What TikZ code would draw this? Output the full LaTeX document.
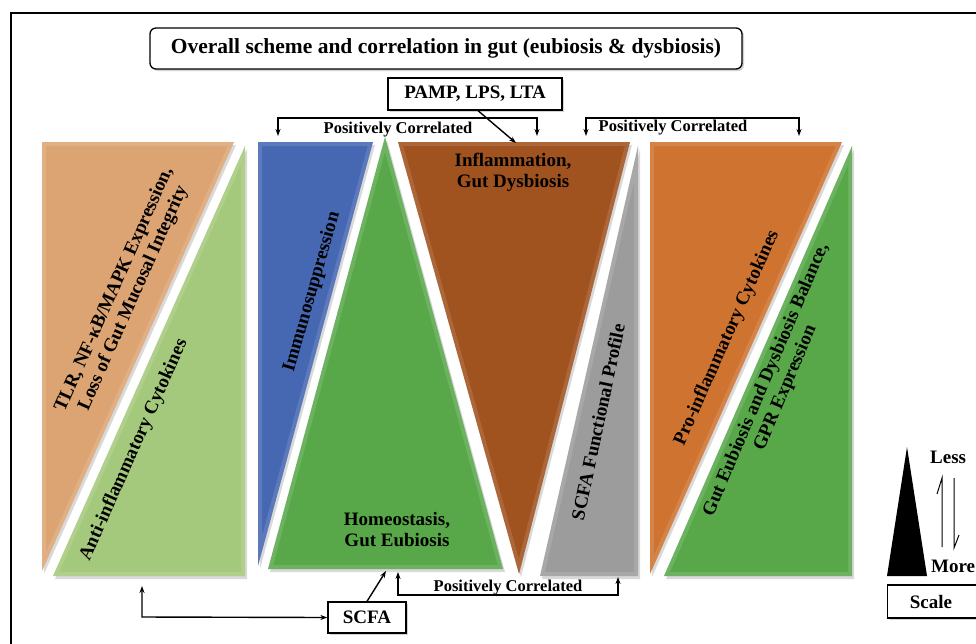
\documentclass[tikz,border=0pt]{standalone}
\usepackage{fontspec}
\setmainfont{Liberation Serif}
\usetikzlibrary{arrows.meta,shadows}
\definecolor{tanor}{HTML}{DCA472}
\definecolor{ltgreen}{HTML}{A4C97C}
\definecolor{blu}{HTML}{4668B2}
\definecolor{grn}{HTML}{58A84A}
\definecolor{brn}{HTML}{A0521F}
\definecolor{gry}{HTML}{9C9C9C}
\definecolor{orn}{HTML}{CF7430}
\newcommand\bevtri[4]{%
  \fill[black,opacity=0.15] ([shift={(2,3)}]#2)--([shift={(2,3)}]#3)--([shift={(2,3)}]#4)--cycle;
  \fill[#1] (#2)--(#3)--(#4)--cycle;
  \begin{scope}\clip (#2)--(#3)--(#4)--cycle;
    \draw[white,opacity=0.12,line width=8pt] (#2)--(#3)--(#4)--cycle;
  \end{scope}}
\begin{document}
\begin{tikzpicture}[x=1pt,y=-1pt,
  lbl/.style={font=\fontsize{19}{21}\selectfont\bfseries,align=center,inner sep=0pt},
  small/.style={font=\fontsize{16.5}{18}\selectfont\bfseries,inner sep=0pt},
  boxed/.style={draw,line width=1.3pt,fill=white,drop shadow={shadow xshift=2pt,shadow yshift=-2pt,opacity=0.35}},
  conn/.style={line width=1.4pt,-{Stealth[length=7pt,width=5pt]}},
  conn2/.style={line width=1.4pt,{Stealth[length=7pt,width=5pt]}-{Stealth[length=7pt,width=5pt]}}]
\useasboundingbox (0,0) rectangle (976,643);
\clip (0,0) rectangle (976,643);
\fill[white] (0,0) rectangle (976,643);
\draw[line width=2pt] (11,13) rectangle (1000,680);

% panel 1
\coordinate (a1) at (42,142); \coordinate (a2) at (234,142); \coordinate (a3) at (42,571);
\coordinate (b1) at (245,146); \coordinate (b2) at (245,576); \coordinate (b3) at (53,576);
\bevtri{tanor}{a1}{a2}{a3}
\bevtri{ltgreen}{b1}{b2}{b3}
% panel 2
\coordinate (c1) at (258,142); \coordinate (c2) at (373,142); \coordinate (c3) at (258,566);
\coordinate (d1) at (385,137); \coordinate (d2) at (503,569); \coordinate (d3) at (268,569);
\bevtri{blu}{c1}{c2}{c3}
\bevtri{grn}{d1}{d2}{d3}
% panel 3
\coordinate (e1) at (398,142); \coordinate (e2) at (630,142); \coordinate (e3) at (519,574);
\coordinate (f1) at (638,146); \coordinate (f2) at (638,576); \coordinate (f3) at (540,576);
\bevtri{brn}{e1}{e2}{e3}
\bevtri{gry}{f1}{f2}{f3}
% panel 4
\coordinate (g1) at (650,142); \coordinate (g2) at (842,142); \coordinate (g3) at (650,574);
\coordinate (h1) at (852,146); \coordinate (h2) at (852,576); \coordinate (h3) at (664,576);
\bevtri{orn}{g1}{g2}{g3}
\bevtri{grn}{h1}{h2}{h3}

% panel texts
\node[lbl,rotate=66] (tlr) at (124,294) {TLR, NF-κB/MAPK Expression,\\Loss of Gut Mucosal Integrity};
\node[lbl,rotate=66] (anti) at (134,450) {Anti-inflammatory Cytokines};
\node[lbl,rotate=74] (immu) at (312,292) {Immunosuppression};
\node[lbl] (homeo) at (397,530) {Homeostasis,\\Gut Eubiosis};
\node[lbl] (infl) at (513,172) {Inflammation,\\Gut Dysbiosis};
\node[lbl,rotate=78] (scfap) at (598,422) {SCFA Functional Profile};
\node[lbl,rotate=66] (pro) at (727,338) {Pro-inflammatory Cytokines};
\node[lbl,rotate=67] (gpr) at (776,384) {Gut Eubiosis and Dysbiosis Balance,\\GPR Expression};

% title and boxes
\node[boxed,rounded corners=6pt,minimum width=592pt,minimum height=41pt,font=\fontsize{21.5}{23}\selectfont\bfseries] (title) at (446,48.5) {Overall scheme and correlation in gut (eubiosis \& dysbiosis)};
\node[boxed,minimum width=174pt,minimum height=32pt,font=\fontsize{19}{21}\selectfont\bfseries] (pamp) at (475,94) {PAMP, LPS, LTA};
\node[boxed,minimum width=78pt,minimum height=31pt,font=\fontsize{19}{21}\selectfont\bfseries] (scfa) at (367,617.5) {SCFA};

% top brackets
\coordinate (t1) at (278,136); \coordinate (t2) at (537,136);
\draw[conn2] (t1) -- (278,118) -- (537,118) -- (t2);
\node[small] (pc1) at (398,130) {Positively Correlated};
\coordinate (t3) at (586,136); \coordinate (t4) at (799,136);
\draw[conn2] (t3) -- (586,118) -- (799,118) -- (t4);
\node[small] (pc2) at (673,128) {Positively Correlated};
\coordinate (pt) at (516,143);
\draw[conn] (pamp.south) ++(3,0) -- (pt);

% bottom connectors
\coordinate (u1) at (398,572); \coordinate (u2) at (618,577);
\draw[conn2] (u1) -- (398,595) -- (618,595) -- (u2);
\node[small] (pc3) at (508,588) {Positively Correlated};
\coordinate (hb) at (386,571);
\draw[conn] (scfa.north) -- (hb);
\coordinate (ab) at (142,586);
\draw[conn2] (ab) -- (142,617) -- (scfa.west);

% scale legend
\coordinate (s1) at (907,447); \coordinate (s2) at (927,576); \coordinate (s3) at (887,576);
\fill[black] (s1) -- (s2) -- (s3) -- cycle;
\node[lbl,anchor=west] (less) at (930,457) {Less};
\node[lbl,anchor=west] (more) at (931,566) {More};
\draw[line width=1pt] (942,547) -- (942,478) -- (937,494);
\draw[line width=1pt] (954,478) -- (954,548) -- (959,535);
\node[boxed,minimum width=120pt,minimum height=33pt,anchor=west] (scalebox) at (887,601.5) {};
\node[lbl] (scale) at (931,602) {Scale};
\end{tikzpicture}
\end{document}
